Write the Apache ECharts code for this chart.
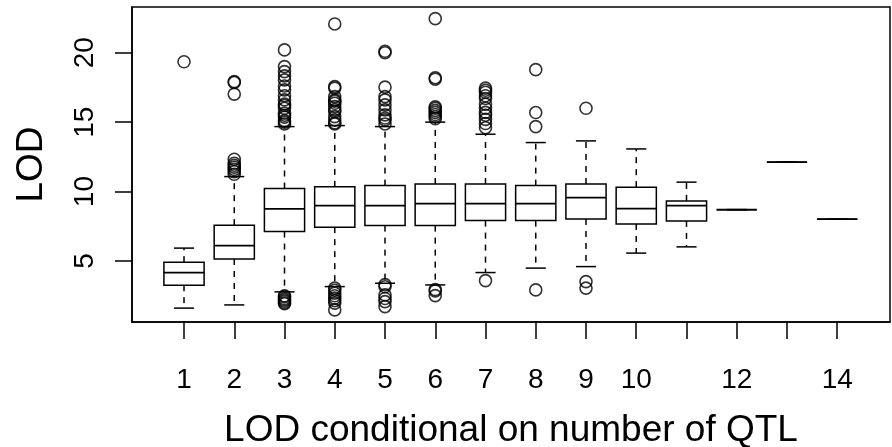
<!DOCTYPE html>
<html>
<head>
<meta charset="utf-8">
<script src="https://cdn.jsdelivr.net/npm/echarts@6/dist/echarts.min.js"></script>
<style>
  html, body { margin: 0; padding: 0; background: #fff; }
  #chart { width: 892px; height: 447px; }
</style>
</head>
<body>
<div id="chart"></div>
<script>
// Number of QTL (group positions on the x axis)
const groups = [1, 2, 3, 4, 5, 6, 7, 8, 9, 10, 11, 12, 13, 14];
const xTickLabels = [1, 2, 3, 4, 5, 6, 7, 8, 9, 10, 12, 14];
const yTickValues = [5, 10, 15, 20];

// Five-number summaries of LOD per group
const lowerWhisker = [1.61, 1.84, 2.78, 3.16, 3.40, 3.28, 4.17, 4.49, 4.60, 5.57, 6.02, 8.70, 12.12, 8.01];
const q1           = [3.26, 5.15, 7.12, 7.44, 7.55, 7.55, 7.91, 7.91, 8.03, 7.67, 7.89, 8.70, 12.12, 8.01];
const median       = [4.17, 6.11, 8.75, 8.99, 8.99, 9.14, 9.14, 9.14, 9.57, 8.78, 8.99, 8.70, 12.12, 8.01];
const q3           = [4.92, 7.58, 10.22, 10.34, 10.43, 10.55, 10.55, 10.43, 10.55, 10.32, 9.33, 8.70, 12.12, 8.01];
const upperWhisker = [5.93, 11.08, 14.68, 14.75, 14.68, 15.00, 14.13, 13.53, 13.65, 13.07, 10.68, 8.70, 12.12, 8.01];

// Outlying LOD values per group
const outliers = [
  [19.35],
  [17.92, 17.85, 17.02, 12.33, 12.04, 11.90, 11.76, 11.60, 11.44, 11.25],
  [20.20, 19.00, 18.64, 18.33, 18.04, 17.60, 17.32, 16.90, 16.60, 16.31, 16.20, 16.00, 15.64, 15.50, 15.36, 15.11, 15.00, 14.87,
   2.50, 2.44, 2.30, 2.20, 2.10, 2.00, 1.92],
  [22.07, 17.56, 17.45, 16.84, 16.60, 16.50, 16.36, 16.12, 15.90, 15.76, 15.40, 15.16, 14.95, 14.87,
   3.05, 2.90, 2.69, 2.50, 2.33, 2.15, 1.97, 1.48],
  [20.10, 20.00, 17.52, 16.84, 16.60, 16.24, 15.88, 15.52, 15.30, 15.16, 14.87,
   3.30, 3.15, 2.56, 2.30, 2.08, 1.72],
  [22.45, 18.20, 18.10, 16.10, 16.00, 15.85, 15.70, 15.55, 15.40, 15.25,
   2.95, 2.85, 2.51],
  [17.45, 17.30, 17.15, 16.90, 16.70, 16.30, 16.00, 15.70, 15.50, 15.20, 14.90, 14.60,
   3.59],
  [18.78, 15.69, 14.68, 2.92],
  [16.00, 3.52, 3.05],
  [], [], [], [], []
];

const boxData = groups.map((g, i) => [g, lowerWhisker[i], q1[i], median[i], q3[i], upperWhisker[i]]);
const outlierData = [];
groups.forEach((g, i) => outliers[i].forEach(v => outlierData.push([g, v])));

const INK = '#000';
const LW = 1.5;
const FONT = 'Liberation Sans, Arial, sans-serif';

// Box, median, dashed whiskers and whisker caps for one group
function renderBox(params, api) {
  const x = api.value(0);
  const pLo = api.coord([x, api.value(1)]);
  const pQ1 = api.coord([x, api.value(2)]);
  const pMed = api.coord([x, api.value(3)]);
  const pQ3 = api.coord([x, api.value(4)]);
  const pHi = api.coord([x, api.value(5)]);
  const boxW = api.size([0.8, 0])[0];
  const capW = boxW / 2;
  const cx = pMed[0];
  const solid = { stroke: INK, lineWidth: LW, fill: null };
  const dashed = { stroke: INK, lineWidth: LW, lineDash: [6, 6] };
  return {
    type: 'group',
    children: [
      { type: 'line', shape: { x1: cx, y1: pQ3[1], x2: cx, y2: pHi[1] }, style: dashed },
      { type: 'line', shape: { x1: cx, y1: pQ1[1], x2: cx, y2: pLo[1] }, style: dashed },
      { type: 'line', shape: { x1: cx - capW / 2, y1: pHi[1], x2: cx + capW / 2, y2: pHi[1] }, style: solid },
      { type: 'line', shape: { x1: cx - capW / 2, y1: pLo[1], x2: cx + capW / 2, y2: pLo[1] }, style: solid },
      { type: 'rect', shape: { x: cx - boxW / 2, y: pQ3[1], width: boxW, height: pQ1[1] - pQ3[1] },
        style: { stroke: INK, lineWidth: LW, fill: '#fff' } },
      { type: 'line', shape: { x1: cx - boxW / 2, y1: pMed[1], x2: cx + boxW / 2, y2: pMed[1] },
        style: { stroke: INK, lineWidth: 1.8 } }
    ]
  };
}

const chart = echarts.init(document.getElementById('chart'), null, { renderer: 'canvas' });
chart.setOption({
  animation: false,
  backgroundColor: '#fff',
  grid: {
    left: 132, right: 2, top: 7, bottom: 125,
    outerBoundsMode: 'none',
    containLabel: false,
    show: true, borderColor: INK, borderWidth: LW, backgroundColor: 'transparent'
  },
  xAxis: {
    type: 'value',
    min: -0.035, max: 15.05,
    name: 'LOD conditional on number of QTL',
    nameLocation: 'middle',
    nameGap: 90,
    nameTextStyle: { fontSize: 37, color: INK, fontFamily: FONT },
    axisLine: { show: true, onZero: false, lineStyle: { color: INK, width: LW } },
    axisTick: { show: true, length: 17, customValues: groups, lineStyle: { color: INK, width: LW } },
    axisLabel: { customValues: xTickLabels, fontSize: 28, color: INK, fontFamily: FONT, margin: 44 },
    splitLine: { show: false }
  },
  yAxis: {
    type: 'value',
    min: 0.61, max: 23.29,
    name: 'LOD',
    nameLocation: 'middle',
    nameRotate: 90,
    nameGap: 82,
    nameTextStyle: { fontSize: 37, color: INK, fontFamily: FONT },
    axisLine: { show: true, onZero: false, lineStyle: { color: INK, width: LW } },
    axisTick: { show: true, length: 17, customValues: yTickValues, lineStyle: { color: INK, width: LW } },
    axisLabel: { customValues: yTickValues, rotate: 90, fontSize: 28, color: INK, fontFamily: FONT, margin: 33 },
    splitLine: { show: false }
  },
  series: [
    {
      type: 'custom',
      renderItem: renderBox,
      data: boxData,
      encode: { x: 0, y: [1, 2, 3, 4, 5] },
      clip: false,
      z: 2
    },
    {
      type: 'scatter',
      data: outlierData,
      symbol: 'circle',
      symbolSize: 12,
      itemStyle: { color: 'transparent', borderColor: INK, borderWidth: 1.6 },
      z: 3
    }
  ]
});
</script>
</body>
</html>
